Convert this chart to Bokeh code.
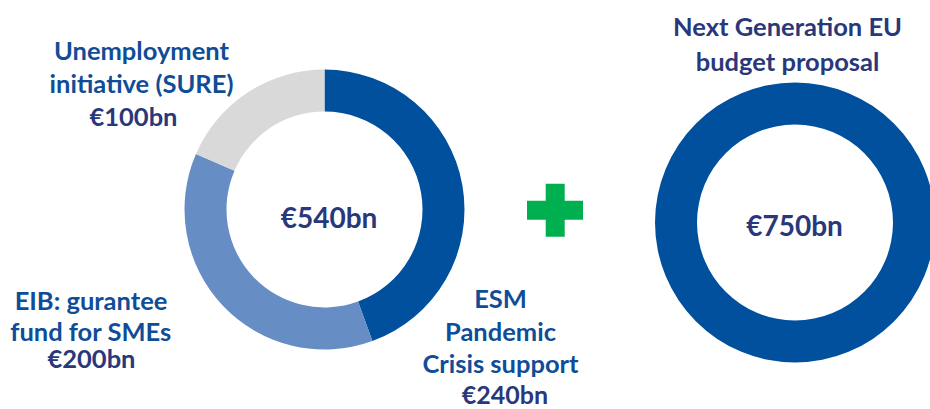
import math
from bokeh.plotting import figure
from bokeh.models import Range1d, ColumnDataSource
from bokeh.core.properties import value
from bokeh.embed import file_html
from bokeh.resources import INLINE

# ---- data ----
categories = ["ESM Pandemic Crisis support", "EIB: gurantee fund for SMEs", "Unemployment initiative (SURE)"]
amounts = [240, 200, 100]
seg_colors = ["#00509E", "#678DC5", "#D9D9D9"]
total_left = "€540bn"
ngeu_value = "€750bn"
ngeu_title = ["Next Generation EU", "budget proposal"]

W, H = 930, 409
p = figure(width=W, height=H, output_backend="svg", toolbar_location=None,
           x_range=Range1d(0, W), y_range=Range1d(0, H),
           min_border=0, outline_line_color=None)
p.axis.visible = False
p.grid.visible = False
p.background_fill_color = "white"
p.border_fill_color = "white"

def Y(yimg):
    return 409 - yimg

# left donut
cx, cy = 324, Y(209)
tot = sum(amounts)
starts, ends = [], []
cum = 0.0
for a in amounts:
    s = math.pi / 2 - 2 * math.pi * (cum + a) / tot
    e = math.pi / 2 - 2 * math.pi * cum / tot
    starts.append(s)
    ends.append(e)
    cum += a
src = ColumnDataSource(dict(x=[cx] * len(amounts), y=[cy] * len(amounts),
                            start=starts, end=ends, color=seg_colors))
p.annular_wedge(x="x", y="y", inner_radius=98, outer_radius=140,
                start_angle="start", end_angle="end", direction="anticlock",
                fill_color="color", line_color=None, source=src)

# right donut
p.annulus(x=[794.5], y=[Y(222)], inner_radius=98, outer_radius=140,
          fill_color="#00509E", line_color=None)

# plus sign
p.rect(x=[554.5], y=[Y(209.7)], width=56, height=19, fill_color="#00B050", line_color=None)
p.rect(x=[554.7], y=[Y(209.7)], width=19, height=53, fill_color="#00B050", line_color=None)

FONT = value("Lato")
LBL = "#0F4D97"
NAVY = "#29387A"

def txt(x, yimg, s, size, color):
    p.text(x=[x], y=[Y(yimg)], text=[s], text_font=FONT, text_font_style="bold",
           text_font_size=size, text_color=color, text_align="center",
           text_baseline="middle")

LS = "25.5px"
# labels
txt(141, 49, "Unemployment", LS, LBL)
txt(141, 82, "initiative (SURE)", LS, LBL)
txt(133, 115, "€" + str(amounts[2]) + "bn", LS, NAVY)

txt(90.5, 299, "EIB: gurantee", LS, LBL)
txt(90.5, 330, "fund for SMEs", LS, LBL)
txt(91, 357, "€" + str(amounts[1]) + "bn", LS, NAVY)

txt(500, 297, "ESM", LS, LBL)
txt(500, 330, "Pandemic", LS, LBL)
txt(500, 362, "Crisis support", LS, LBL)
txt(504.5, 393, "€" + str(amounts[0]) + "bn", "25px", NAVY)

txt(787, 25, ngeu_title[0], LS, NAVY)
txt(787, 60, ngeu_title[1], LS, NAVY)

txt(328.5, 216, total_left, "28px", NAVY)
txt(794, 224, ngeu_value, "28px", NAVY)

open("out.html", "w").write(file_html(p, INLINE))
